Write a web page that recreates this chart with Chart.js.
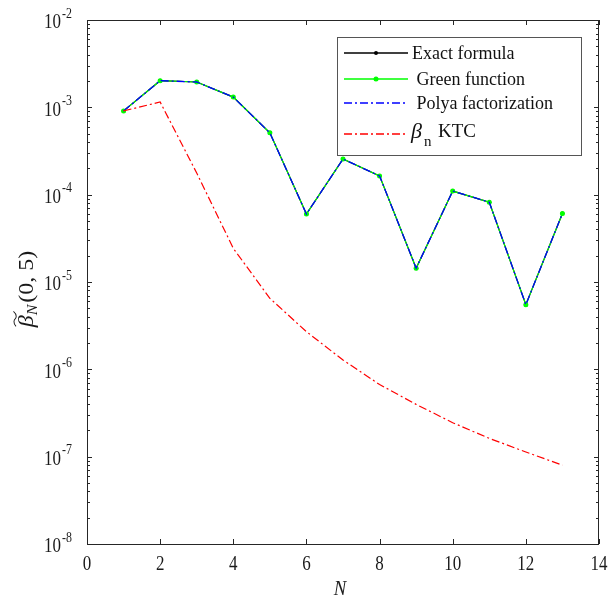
<!DOCTYPE html>
<html>
<head>
<meta charset="utf-8">
<script src="https://cdn.jsdelivr.net/npm/chart.js@4/dist/chart.umd.min.js"></script>
<style>
  html, body { margin: 0; padding: 0; background: #fff; }
  #wrap { width: 610px; height: 599px; position: relative; }
</style>
</head>
<body>
<div id="wrap"><canvas id="betaChart"></canvas></div>
<script>
// Coefficient beta_N(0,5) for N = 1..13
const nValues = [1, 2, 3, 4, 5, 6, 7, 8, 9, 10, 11, 12, 13];
const exactFormula = [9.1e-4, 2.02e-3, 1.95e-3, 1.31e-3, 5.1e-4, 6.0e-5, 2.56e-4, 1.64e-4, 1.44e-5, 1.10e-4, 8.2e-5, 5.5e-6, 6.1e-5];
const greenFunction = [9.1e-4, 2.02e-3, 1.95e-3, 1.31e-3, 5.1e-4, 6.0e-5, 2.56e-4, 1.64e-4, 1.44e-5, 1.10e-4, 8.2e-5, 5.5e-6, 6.1e-5];
const polyaFactorization = [9.1e-4, 2.02e-3, 1.95e-3, 1.31e-3, 5.1e-4, 6.0e-5, 2.56e-4, 1.64e-4, 1.44e-5, 1.10e-4, 8.2e-5, 5.5e-6, 6.1e-5];
const betaKTC = [9.1e-4, 1.15e-3, 1.77e-4, 2.43e-5, 6.5e-6, 2.7e-6, 1.28e-6, 6.7e-7, 3.97e-7, 2.45e-7, 1.62e-7, 1.13e-7, 8.0e-8];

const xTicks = [0, 2, 4, 6, 8, 10, 12, 14];
const yExponents = [-8, -7, -6, -5, -4, -3, -2];

const SERIF = '"Liberation Serif", "Times New Roman", serif';
const AXIS_COLOR = '#262626';
const TEXT_COLOR = '#1a1a1a';
const DASH_DOT = [8, 3, 2, 3];
const SQUEEZE = 0.85; // narrow glyphs horizontally

function toPoints(values) {
    return nValues.map((n, i) => ({ x: n, y: values[i] }));
}

// draw horizontally squeezed text
function narrowText(ctx, text, x, y, font, align) {
    ctx.save();
    ctx.font = font;
    ctx.textAlign = align;
    ctx.translate(x, y);
    ctx.scale(SQUEEZE, 1);
    ctx.fillText(text, 0, 0);
    ctx.restore();
}

// Box, inward ticks and tick labels, MATLAB style
const axesPlugin = {
    id: 'boxAxes',
    afterDatasetsDraw(chart) {
        const { ctx, chartArea: a, scales: { x, y } } = chart;
        ctx.save();
        ctx.strokeStyle = AXIS_COLOR;
        ctx.lineWidth = 1;
        ctx.strokeRect(a.left + 0.5, a.top + 0.5, a.right - a.left - 1, a.bottom - a.top);

        ctx.beginPath();
        xTicks.forEach(v => {
            const px = Math.round(x.getPixelForValue(v)) + 0.5;
            ctx.moveTo(px, a.bottom); ctx.lineTo(px, a.bottom - 5);
            ctx.moveTo(px, a.top); ctx.lineTo(px, a.top + 5);
        });
        yExponents.forEach(e => {
            const py = Math.round(y.getPixelForValue(Math.pow(10, e))) + 0.5;
            ctx.moveTo(a.left, py); ctx.lineTo(a.left + 5, py);
            ctx.moveTo(a.right, py); ctx.lineTo(a.right - 5, py);
            if (e < -2) {
                for (let m = 2; m <= 9; m++) {
                    const my = Math.round(y.getPixelForValue(m * Math.pow(10, e))) + 0.5;
                    ctx.moveTo(a.left, my); ctx.lineTo(a.left + 3, my);
                    ctx.moveTo(a.right, my); ctx.lineTo(a.right - 3, my);
                }
            }
        });
        ctx.stroke();

        ctx.fillStyle = TEXT_COLOR;
        ctx.textBaseline = 'middle';
        xTicks.forEach(v => narrowText(ctx, String(v), x.getPixelForValue(v), 565, '20px ' + SERIF, 'center'));

        yExponents.forEach(e => {
            const py = y.getPixelForValue(Math.pow(10, e));
            narrowText(ctx, '10', 61, py + 3, '20px ' + SERIF, 'right');
            narrowText(ctx, '-' + Math.abs(e), 62, py - 6, '14px ' + SERIF, 'left');
        });

        // x axis title
        narrowText(ctx, 'N', 340, 589, 'italic 22px ' + SERIF, 'center');

        // y axis title: tilde beta, subscript N, then (0, 5)
        ctx.translate(33, 289);
        ctx.rotate(-Math.PI / 2);
        ctx.scale(1, SQUEEZE);
        ctx.textAlign = 'left';
        ctx.textBaseline = 'alphabetic';
        const big = 'italic 24px ' + SERIF;
        const sub = 'italic 16px ' + SERIF;
        const up = '24px ' + SERIF;
        ctx.font = big; const wB = ctx.measureText('\u03B2').width;
        ctx.font = sub; const wN = ctx.measureText('N').width;
        ctx.font = up; const wP = ctx.measureText('(0, 5)').width;
        let cx = -(wB + wN + 2 + wP) / 2;
        ctx.font = big;
        ctx.fillText('\u03B2', cx, 0);
        // tilde accent
        ctx.beginPath();
        ctx.lineWidth = 1.1;
        ctx.strokeStyle = TEXT_COLOR;
        const tx = cx + 1, ty = -21, tw = wB + 3;
        ctx.moveTo(tx, ty + 1);
        ctx.bezierCurveTo(tx + tw * 0.25, ty - 3, tx + tw * 0.45, ty - 1, tx + tw * 0.5, ty);
        ctx.bezierCurveTo(tx + tw * 0.55, ty + 1, tx + tw * 0.75, ty + 3, tx + tw, ty - 2);
        ctx.stroke();
        cx += wB;
        ctx.font = sub;
        ctx.fillText('N', cx, 5);
        cx += wN + 2;
        ctx.font = up;
        ctx.fillText('(0, 5)', cx, 0);
        ctx.restore();
    }
};

// Legend box in the upper right of the plot
const legendPlugin = {
    id: 'insideLegend',
    afterDraw(chart) {
        const { ctx } = chart;
        const box = { left: 337.5, top: 37.5, right: 581.5, bottom: 155.5 };
        const rows = [53, 79, 103, 134];
        ctx.save();
        ctx.fillStyle = '#fff';
        ctx.fillRect(box.left, box.top, box.right - box.left, box.bottom - box.top);
        ctx.strokeStyle = '#555';
        ctx.lineWidth = 1;
        ctx.strokeRect(box.left, box.top, box.right - box.left, box.bottom - box.top);

        chart.data.datasets.forEach((ds, i) => {
            const ry = rows[i];
            ctx.save();
            ctx.strokeStyle = ds.borderColor;
            ctx.lineWidth = 1.4;
            ctx.setLineDash(ds.borderDash ? ds.borderDash.slice() : []);
            ctx.beginPath();
            ctx.moveTo(344, ry); ctx.lineTo(408, ry);
            ctx.stroke();
            ctx.restore();
            if (ds.pointRadius > 0) {
                ctx.fillStyle = ds.pointBackgroundColor;
                ctx.beginPath();
                ctx.arc(376, ry, ds.pointRadius, 0, Math.PI * 2);
                ctx.fill();
            }
            ctx.fillStyle = '#111';
            ctx.textBaseline = 'middle';
            ctx.textAlign = 'left';
            if (ds.legendTex) {
                ctx.font = 'italic 22px ' + SERIF;
                ctx.fillText('\u03B2', 411, ry - 2);
                ctx.font = '15px ' + SERIF;
                ctx.fillText('n', 424, ry + 8);
                ctx.font = '19px ' + SERIF;
                ctx.fillText('KTC', 438, ry - 2);
            } else {
                ctx.font = '18px ' + SERIF;
                ctx.fillText(ds.label, 412, ry + 1);
            }
        });
        ctx.restore();
    }
};

const ctx = document.getElementById('betaChart').getContext('2d');
const betaChart = new Chart(ctx, {
    type: 'line',
    data: {
        datasets: [{
            label: 'Exact formula',
            data: toPoints(exactFormula),
            borderColor: '#000000',
            borderWidth: 1.2,
            pointRadius: 2,
            pointBackgroundColor: '#000000',
            pointBorderWidth: 0,
            order: 4
        }, {
            label: ' Green function',
            data: toPoints(greenFunction),
            borderColor: '#00ff00',
            borderWidth: 1.2,
            pointRadius: 2.5,
            pointBackgroundColor: '#00ff00',
            pointBorderWidth: 0,
            order: 3
        }, {
            label: ' Polya factorization',
            data: toPoints(polyaFactorization),
            borderColor: '#0000ff',
            borderWidth: 1.3,
            borderDash: DASH_DOT,
            pointRadius: 0,
            order: 2
        }, {
            label: 'beta_n KTC',
            legendTex: true,
            data: toPoints(betaKTC),
            borderColor: '#ff0000',
            borderWidth: 1.2,
            borderDash: DASH_DOT,
            pointRadius: 0,
            order: 1
        }]
    },
    options: {
        responsive: true,
        maintainAspectRatio: false,
        animation: false,
        devicePixelRatio: 1,
        layout: { padding: { left: 87, top: 20, right: 11, bottom: 55 } },
        elements: { line: { tension: 0 } },
        scales: {
            x: { type: 'linear', min: 0, max: 14, display: false },
            y: { type: 'logarithmic', min: 1e-8, max: 1e-2, display: false }
        },
        plugins: {
            legend: { display: false },
            tooltip: { enabled: false }
        }
    },
    plugins: [axesPlugin, legendPlugin]
});
</script>
</body>
</html>
